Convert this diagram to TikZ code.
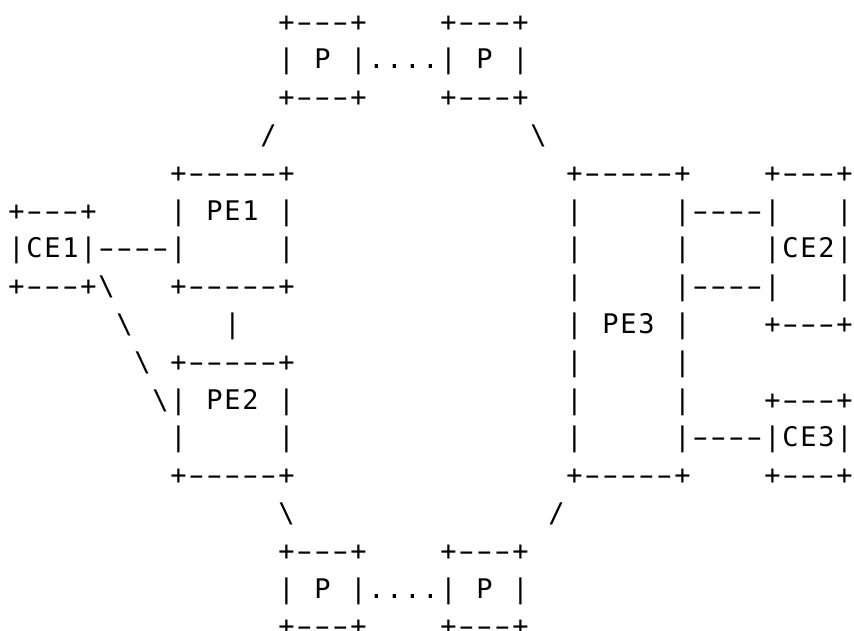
\documentclass[tikz,border=0pt]{standalone}
\usepackage{fontspec}
\usepackage{graphicx}
\setmonofont{DejaVu Sans Mono}
\ExplSyntaxOn
\NewDocumentCommand\asciiline{m}{\tl_map_inline:nn {#1}
  {\makebox[18pt][c]{\str_if_eq:nnTF {##1}{-}{\scalebox{1.7}[1]{-}}{##1}}}}
\ExplSyntaxOff
\tikzset{
  asciirow/.style={anchor=base west, inner sep=0pt, outer sep=0pt,
    font=\ttfamily\fontsize{27pt}{37.79pt}\selectfont, text=black}
}
\begin{document}
\begin{tikzpicture}[x=1pt,y=1pt]
\path[fill=white,use as bounding box] (0,0) rectangle (854,-631);
\node[asciirow] (r0)  at (7.5,{-(31.2+37.79*0)})  {\asciiline{~~~~~~~~~~~~~~~+---+~~~~+---+}};
\node[asciirow] (r1)  at (7.5,{-(31.2+37.79*1)})  {\asciiline{~~~~~~~~~~~~~~~|~P~|....|~P~|}};
\node[asciirow] (r2)  at (7.5,{-(31.2+37.79*2)})  {\asciiline{~~~~~~~~~~~~~~~+---+~~~~+---+}};
\node[asciirow] (r3)  at (7.5,{-(31.2+37.79*3)})  {\asciiline{~~~~~~~~~~~~~~/~~~~~~~~~~~~~~\textbackslash}};
\node[asciirow] (r4)  at (7.5,{-(31.2+37.79*4)})  {\asciiline{~~~~~~~~~+-----+~~~~~~~~~~~~~~~+-----+~~~~+---+}};
\node[asciirow] (r5)  at (7.5,{-(31.2+37.79*5)})  {\asciiline{+---+~~~~|~PE1~|~~~~~~~~~~~~~~~|~~~~~|----|~~~|}};
\node[asciirow] (r6)  at (7.5,{-(31.2+37.79*6)})  {\asciiline{|CE1|----|~~~~~|~~~~~~~~~~~~~~~|~~~~~|~~~~|CE2|}};
\node[asciirow] (r7)  at (7.5,{-(31.2+37.79*7)})  {\asciiline{+---+\textbackslash~~~+-----+~~~~~~~~~~~~~~~|~~~~~|----|~~~|}};
\node[asciirow] (r8)  at (7.5,{-(31.2+37.79*8)})  {\asciiline{~~~~~~\textbackslash~~~~~|~~~~~~~~~~~~~~~~~~|~PE3~|~~~~+---+}};
\node[asciirow] (r9)  at (7.5,{-(31.2+37.79*9)})  {\asciiline{~~~~~~~\textbackslash~+-----+~~~~~~~~~~~~~~~|~~~~~|}};
\node[asciirow] (r10) at (7.5,{-(31.2+37.79*10)}) {\asciiline{~~~~~~~~\textbackslash|~PE2~|~~~~~~~~~~~~~~~|~~~~~|~~~~+---+}};
\node[asciirow] (r11) at (7.5,{-(31.2+37.79*11)}) {\asciiline{~~~~~~~~~|~~~~~|~~~~~~~~~~~~~~~|~~~~~|----|CE3|}};
\node[asciirow] (r12) at (7.5,{-(31.2+37.79*12)}) {\asciiline{~~~~~~~~~+-----+~~~~~~~~~~~~~~~+-----+~~~~+---+}};
\node[asciirow] (r13) at (7.5,{-(31.2+37.79*13)}) {\asciiline{~~~~~~~~~~~~~~~\textbackslash~~~~~~~~~~~~~~/}};
\node[asciirow] (r14) at (7.5,{-(31.2+37.79*14)}) {\asciiline{~~~~~~~~~~~~~~~+---+~~~~+---+}};
\node[asciirow] (r15) at (7.5,{-(31.2+37.79*15)}) {\asciiline{~~~~~~~~~~~~~~~|~P~|....|~P~|}};
\node[asciirow] (r16) at (7.5,{-(31.2+37.79*16)}) {\asciiline{~~~~~~~~~~~~~~~+---+~~~~+---+}};
\end{tikzpicture}
\end{document}
